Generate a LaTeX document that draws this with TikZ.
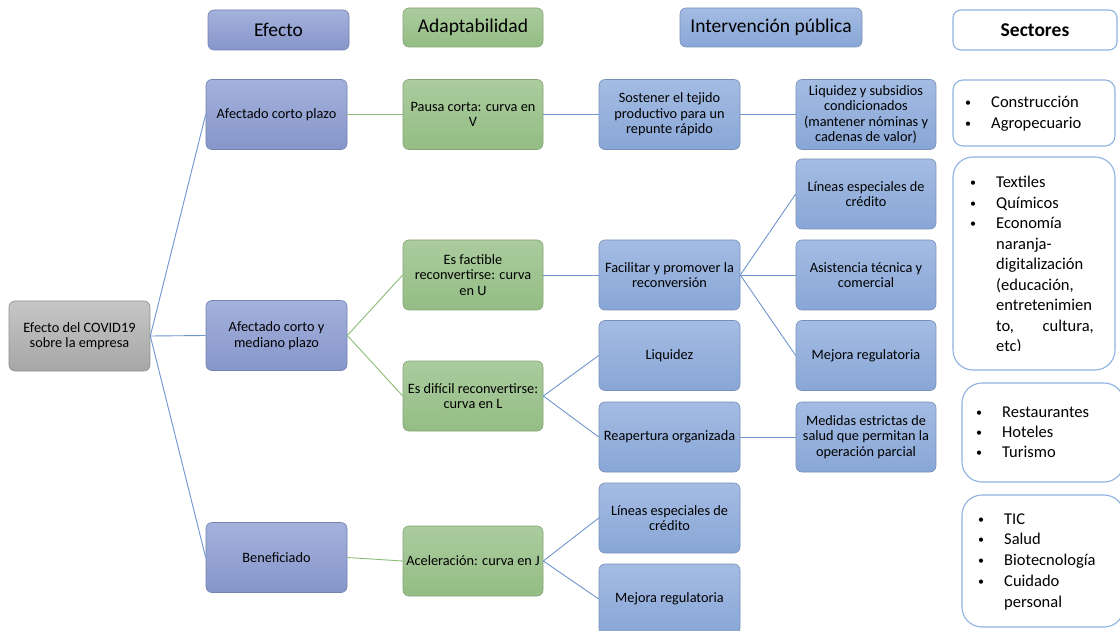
\documentclass[tikz,border=0pt]{standalone}
\usepackage{fontspec}
\setmainfont{Carlito}
\definecolor{effT}{HTML}{A4B1DC}
\definecolor{effB}{HTML}{8696CA}
\definecolor{effD}{HTML}{7482B0}
\definecolor{adaT}{HTML}{ABCC9E}
\definecolor{adaB}{HTML}{94BC84}
\definecolor{adaD}{HTML}{84A476}
\definecolor{itvT}{HTML}{A4BCE3}
\definecolor{itvB}{HTML}{88A6D6}
\definecolor{itvD}{HTML}{7790B8}
\definecolor{rootT}{HTML}{C6C6C6}
\definecolor{rootB}{HTML}{A6A6A6}
\definecolor{rootD}{HTML}{909090}
\definecolor{secD}{HTML}{8EB3E0}
\definecolor{lnB}{HTML}{7096D0}
\definecolor{lnG}{HTML}{8CBC78}
\tikzset{
  box/.style={rectangle, rounded corners=6pt, minimum width=141pt, minimum height=70pt,
    inner sep=2pt, align=center, font=\fontsize{14.3}{15.6}\selectfont, line width=0.6pt},
  eff/.style={box, draw=effD, top color=effT, bottom color=effB},
  ada/.style={box, draw=adaD, top color=adaT, bottom color=adaB},
  itv/.style={box, draw=itvD, top color=itvT, bottom color=itvB},
  rootbox/.style={box, draw=rootD, top color=rootT, bottom color=rootB},
  hdr/.style={minimum height=40pt, font=\fontsize{19.5}{22}\selectfont},
  secbox/.style={rectangle, draw=secD, fill=white, line width=1.1pt},
  secline/.style={anchor=base west, inner sep=0pt, font=\fontsize{16.5}{19}\selectfont},
  secdot/.style={anchor=base west, inner sep=0pt, font=\fontsize{12}{14}\selectfont},
  bl/.style={draw=lnB, line width=0.9pt},
  gr/.style={draw=lnG, line width=0.9pt}
}
\begin{document}
\begin{tikzpicture}[x=1pt, y=-1pt]
\useasboundingbox[fill=white] (0,0) rectangle (1120,631);

% column headers
\node[eff, hdr, minimum width=141pt] (hEff) at (278.5,30) {Efecto};
\node[ada, hdr, minimum width=140pt, minimum height=39pt] (hAda) at (473,27.5) {Adaptabilidad};
\node[itv, hdr, minimum width=182pt, minimum height=39pt] (hItv) at (771,27.5) {Intervención pública};
\node[secbox, rounded corners=8pt, minimum width=164pt, minimum height=40pt,
      font=\fontsize{19.5}{22}\selectfont\bfseries] (hSec) at (1035,30) {Sectores};

% root and effects
\node[rootbox] (root) at (79.5,336) {Efecto del COVID19\\sobre la empresa};
\node[eff] (e1) at (276.5,114.5) {Afectado corto plazo};
\node[eff] (e2) at (276.5,335.5) {Afectado corto y\\mediano plazo};
\node[eff] (e3) at (276.5,557.5) {Beneficiado};

% adaptability
\node[ada, minimum width=140pt] (a1) at (473,114.5) {Pausa corta: curva en\\V};
\node[ada, minimum width=140pt] (a2) at (473,275) {Es factible\\reconvertirse: curva\\en U};
\node[ada, minimum width=140pt] (a3) at (473,396) {Es difícil reconvertirse:\\curva en L};
\node[ada, minimum width=140pt] (a4) at (473,561) {Aceleración: curva en J};

% public intervention, first level
\node[itv] (i1) at (669.5,114.5) {Sostener el tejido\\productivo para un\\repunte rápido};
\node[itv] (i2) at (669.5,275) {Facilitar y promover la\\reconversión};
\node[itv] (i3) at (669.5,355.5) {Liquidez};
\node[itv] (i4) at (669.5,437) {Reapertura organizada};
\node[itv] (i5) at (669.5,518) {Líneas especiales de\\crédito};
\node[itv] (i6) at (669.5,599) {Mejora regulatoria};

% public intervention, second level
\node[itv, minimum width=140pt] (j1) at (866,114.5) {Liquidez y subsidios\\condicionados\\(mantener nóminas y\\cadenas de valor)};
\node[itv, minimum width=140pt] (j2) at (866,194) {Líneas especiales de\\crédito};
\node[itv, minimum width=140pt] (j3) at (866,275) {Asistencia técnica y\\comercial};
\node[itv, minimum width=140pt] (j4) at (866,355.5) {Mejora regulatoria};
\node[itv, minimum width=140pt] (j5) at (866,437) {Medidas estrictas de\\salud que permitan la\\operación parcial};

% connectors
\draw[bl] (root.east) -- (e1.west);
\draw[bl] (root.east) -- (e2.west);
\draw[bl] (root.east) -- (e3.west);
\draw[gr] (e1.east) -- (a1.west);
\draw[gr] (e2.east) -- (a2.west);
\draw[gr] (e2.east) -- (a3.west);
\draw[gr] (e3.east) -- (a4.west);
\draw[bl] (a1.east) -- (i1.west);
\draw[bl] (a2.east) -- (i2.west);
\draw[bl] (a3.east) -- (i3.west);
\draw[bl] (a3.east) -- (i4.west);
\draw[bl] (a4.east) -- (i5.west);
\draw[bl] (a4.east) -- (i6.west);
\draw[bl] (i1.east) -- (j1.west);
\draw[bl] (i2.east) -- (j2.west);
\draw[bl] (i2.east) -- (j3.west);
\draw[bl] (i2.east) -- (j4.west);
\draw[bl] (i4.east) -- (j5.west);

% sector boxes
\node[secbox, rounded corners=10pt, minimum width=162pt, minimum height=66pt] (s1) at (1034,113) {};
\node[secbox, rounded corners=20pt, minimum width=162pt, minimum height=213pt] (s2) at (1034,263.5) {};
\node[secbox, rounded corners=20pt, minimum width=162pt, minimum height=99pt] (s3) at (1043,432.5) {};
\node[secbox, rounded corners=20pt, minimum width=162pt, minimum height=132pt] (s4) at (1043,561) {};

% sector lists
\node[secdot] (s1b1) at (965,107) {•};
\node[secline] (s1t1) at (991,108) {Construcción};
\node[secdot] (s1b2) at (965,128) {•};
\node[secline] (s1t2) at (991,129) {Agropecuario};

\begin{scope}
  \clip (955,158) rectangle (1113,350);
  \node[secdot] (s2b1) at (970,187) {•};
  \node[secline] (s2t1) at (996,188) {Textiles};
  \node[secdot] (s2b2) at (970,207.5) {•};
  \node[secline] (s2t2) at (996,208.5) {Químicos};
  \node[secdot] (s2b3) at (970,228) {•};
  \node[secline] (s2t3) at (996,229) {Economía};
  \node[secline] (s2t4) at (996,249.5) {naranja-};
  \node[secline] (s2t5) at (996,270) {digitalización};
  \node[secline] (s2t6) at (996,290.5) {(educación,};
  \node[secline] (s2t7) at (996,311) {entretenimien};
  \node[secline] (s2t8) at (996,331.5) {to,};
  \node[secline, anchor=base east] (s2t9) at (1094,331.5) {cultura,};
  \node[secline] (s2t10) at (996,352) {etc)};
\end{scope}

\node[secdot] (s3b1) at (976,416) {•};
\node[secline] (s3t1) at (1002,417) {Restaurantes};
\node[secdot] (s3b2) at (976,436) {•};
\node[secline] (s3t2) at (1002,437) {Hoteles};
\node[secdot] (s3b3) at (976,456) {•};
\node[secline] (s3t3) at (1002,457) {Turismo};

\node[secdot] (s4b1) at (978,523) {•};
\node[secline] (s4t1) at (1004,524) {TIC};
\node[secdot] (s4b2) at (978,543.8) {•};
\node[secline] (s4t2) at (1004,544.8) {Salud};
\node[secdot] (s4b3) at (978,564.6) {•};
\node[secline] (s4t3) at (1004,565.6) {Biotecnología};
\node[secdot] (s4b4) at (978,585.4) {•};
\node[secline] (s4t4) at (1004,586.4) {Cuidado};
\node[secline] (s4t5) at (1004,607.2) {personal};
\end{tikzpicture}
\end{document}
